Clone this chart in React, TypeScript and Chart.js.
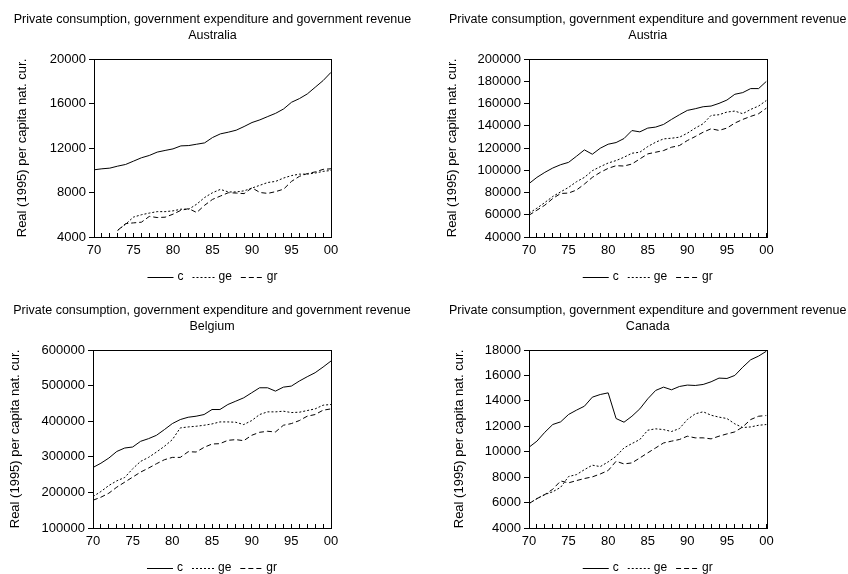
import React, { useEffect, useRef } from "react";
import { Chart, registerables } from "chart.js";

Chart.register(...registerables);

// ---------- data ----------
const years = [
  1970, 1971, 1972, 1973, 1974, 1975, 1976, 1977, 1978, 1979,
  1980, 1981, 1982, 1983, 1984, 1985, 1986, 1987, 1988, 1989,
  1990, 1991, 1992, 1993, 1994, 1995, 1996, 1997, 1998, 1999, 2000,
];

const xTickYears = [1970, 1975, 1980, 1985, 1990, 1995, 2000];
const xTickLabels = ["70", "75", "80", "85", "90", "95", "00"];

const seriesNames = ["c", "ge", "gr"];
const mainTitle = "Private consumption, government expenditure and government revenue";
const yAxisTitle = "Real (1995) per capita nat. cur.";

const countries = ["Australia", "Austria", "Belgium", "Canada"];

const australiaC = [10040, 10130, 10190, 10370, 10520, 10820, 11120, 11330, 11630, 11780, 11920, 12190, 12220, 12340, 12460, 12940, 13270, 13420, 13600, 13930, 14290, 14530, 14830, 15120, 15510, 16110, 16440, 16860, 17460, 18060, 18800];
const australiaGe = [null, null, null, 4600, 5150, 5790, 6000, 6150, 6280, 6280, 6350, 6500, 6500, 6950, 7550, 7980, 8280, 8050, 8050, 8150, 8400, 8650, 8900, 9000, 9300, 9520, 9650, 9650, 9750, 9900, 9980];
const australiaGr = [null, null, null, 4600, 5200, 5270, 5330, 5850, 5750, 5780, 6050, 6400, 6550, 6200, 6850, 7380, 7680, 7980, 7950, 7900, 8420, 8000, 7920, 8080, 8300, 9000, 9450, 9700, 9850, 10080, 10130];

const austriaC = [88000, 93600, 98100, 102000, 105000, 107100, 112600, 118300, 114400, 119800, 123400, 124900, 128500, 135700, 134500, 137900, 138800, 141200, 145700, 149900, 153800, 155300, 157100, 157700, 160100, 163100, 168300, 169800, 173400, 173400, 180000];
const austriaGe = [61400, 65900, 71000, 76400, 80600, 84600, 89700, 93600, 99600, 103200, 106500, 108700, 111700, 115300, 116200, 121300, 125200, 128200, 128800, 129700, 133300, 137900, 141800, 149300, 149900, 152300, 153200, 150800, 154700, 157700, 162800];
const austriaGr = [59600, 64100, 68600, 74600, 79100, 79500, 82200, 87600, 93600, 98100, 101700, 104100, 103800, 105600, 110200, 114700, 116200, 117700, 120700, 122200, 126700, 130300, 134200, 137300, 135800, 137900, 142400, 145700, 148400, 150800, 155900];

const belgiumC = [270000, 282000, 296500, 315000, 324700, 327500, 343500, 351000, 360400, 376400, 393300, 404600, 411100, 414000, 418700, 432800, 432800, 446900, 456300, 465700, 479800, 493900, 493900, 484500, 495700, 498600, 512700, 524900, 536200, 552100, 569100];
const belgiumGe = [188400, 202500, 219400, 232500, 241900, 266400, 287100, 298300, 313400, 329400, 348200, 381100, 383900, 385800, 388600, 392300, 398000, 398000, 397000, 390500, 401700, 418700, 426200, 426200, 428100, 424300, 425200, 429900, 434600, 445000, 446900];
const belgiumGr = [178000, 186500, 197800, 214700, 228800, 242900, 257000, 268300, 280500, 291800, 298300, 298300, 314300, 313400, 326500, 335900, 336900, 346300, 348200, 345300, 360400, 368800, 371700, 369800, 388600, 393300, 401700, 414000, 418700, 430900, 434600];

const canadaC = [10350, 10830, 11530, 12140, 12350, 12930, 13270, 13580, 14290, 14500, 14630, 12610, 12320, 12790, 13370, 14160, 14820, 15080, 14870, 15130, 15240, 15210, 15290, 15500, 15790, 15760, 16000, 16650, 17230, 17520, 17910];
const canadaGe = [5920, 6310, 6630, 6850, 7200, 8050, 8200, 8590, 8940, 8830, 9200, 9640, 10300, 10640, 10960, 11690, 11800, 11740, 11590, 11820, 12530, 12980, 13140, 12870, 12720, 12610, 12190, 11900, 11950, 12080, 12140];
const canadaGr = [5920, 6310, 6630, 7050, 7700, 7550, 7730, 7890, 8020, 8250, 8520, 9250, 9040, 9120, 9510, 9910, 10300, 10690, 10830, 10960, 11220, 11090, 11090, 11010, 11220, 11400, 11560, 11950, 12530, 12790, 12850];

// y-axis ranges: [min, max, step]
const australiaRange = [4000, 20000, 4000];
const austriaRange = [40000, 200000, 20000];
const belgiumRange = [100000, 600000, 100000];
const canadaRange = [4000, 18000, 2000];

// ---------- styles / layout ----------
const FONT = '"Liberation Sans", Arial, Helvetica, sans-serif';
const LINE_COLOR = "#000";
const seriesDash = [[], [2, 2], [5, 3]];
const legendSampleW = [26, 22, 22];

const panelLayout = [
  { x: 0, y: 0, w: 424, h: 291, plotLeft: 94, plotRight: 331, yLabelX: 22 },
  { x: 424, y: 0, w: 424, h: 291, plotLeft: 105, plotRight: 342.5, yLabelX: 28 },
  { x: 0, y: 291, w: 424, h: 283, plotLeft: 93, plotRight: 331, yLabelX: 15 },
  { x: 424, y: 291, w: 424, h: 283, plotLeft: 105, plotRight: 342.5, yLabelX: 35 },
];
const PLOT_TOP = 59;
const PLOT_BOTTOM = 237;
const TITLE_Y = 20;
const TITLE_LH = 16;
const LEGEND_Y = 277;

const panelData = [
  { country: countries[0], series: [australiaC, australiaGe, australiaGr], range: australiaRange },
  { country: countries[1], series: [austriaC, austriaGe, austriaGr], range: austriaRange },
  { country: countries[2], series: [belgiumC, belgiumGe, belgiumGr], range: belgiumRange },
  { country: countries[3], series: [canadaC, canadaGe, canadaGr], range: canadaRange },
];

const decorPlugin = {
  id: "panelDecor",
  afterDraw(chart: any, _args: any, opts: any) {
    const { ctx, chartArea: a } = chart;
    ctx.save();
    // frame
    ctx.strokeStyle = "#000";
    ctx.lineWidth = 1;
    ctx.setLineDash([]);
    const l = Math.round(a.left) + 0.5;
    const t = Math.round(a.top) + 0.5;
    const r = Math.round(a.right) + 0.5;
    const b = Math.round(a.bottom) + 0.5;
    ctx.strokeRect(l, t, r - l, b - t);

    const cx = (a.left + a.right) / 2;
    // title
    ctx.fillStyle = "#000";
    ctx.font = `12.5px ${FONT}`;
    ctx.textAlign = "center";
    ctx.textBaseline = "middle";
    (opts.title as string[]).forEach((line, i) => ctx.fillText(line, cx, TITLE_Y + i * TITLE_LH));

    // legend
    ctx.font = `12px ${FONT}`;
    const gapLine = 4;
    const gapItem = 9;
    const items = chart.data.datasets.map((ds: any, i: number) => ({
      label: ds.label as string,
      dash: ds.borderDash || [],
      w: legendSampleW[i],
      tw: ctx.measureText(ds.label).width,
    }));
    let total = 0;
    items.forEach((it: any, i: number) => {
      total += it.w + gapLine + it.tw + (i < items.length - 1 ? gapItem : 0);
    });
    let x = cx - total / 2;
    const ly = Math.round(LEGEND_Y) + 0.5;
    ctx.textAlign = "left";
    items.forEach((it: any) => {
      ctx.setLineDash(it.dash);
      ctx.beginPath();
      ctx.moveTo(x, ly);
      ctx.lineTo(x + it.w, ly);
      ctx.stroke();
      x += it.w + gapLine;
      ctx.fillText(it.label, x, LEGEND_Y);
      x += it.tw + gapItem;
    });
    ctx.restore();
  },
};

function Panel({ idx }: { idx: number }) {
  const ref = useRef<HTMLCanvasElement>(null);
  const geo = panelLayout[idx];
  const pd = panelData[idx];

  useEffect(() => {
    const canvas = ref.current;
    if (!canvas) return;
    const datasets = pd.series.map((vals, si) => ({
      label: seriesNames[si],
      data: years.map((yr, i) => ({ x: yr, y: vals[i] })),
      borderColor: LINE_COLOR,
      borderWidth: 1,
      borderDash: seriesDash[si],
      pointRadius: 0,
      fill: false,
      tension: 0,
    }));
    const chart = new Chart(canvas, {
      type: "line",
      data: { datasets },
      plugins: [decorPlugin],
      options: {
        animation: false,
        responsive: false,
        maintainAspectRatio: false,
        events: [],
        layout: {
          padding: { left: 0, top: PLOT_TOP, right: geo.w - geo.plotRight, bottom: 0 },
        },
        plugins: {
          legend: { display: false },
          title: { display: false },
          tooltip: { enabled: false },
          panelDecor: { title: [mainTitle, pd.country] },
        } as any,
        scales: {
          x: {
            type: "linear",
            min: years[0],
            max: years[years.length - 1],
            border: { display: false },
            grid: { drawOnChartArea: false, drawTicks: true, tickLength: -4, color: "#000", lineWidth: 1 },
            ticks: {
              stepSize: 1,
              autoSkip: false,
              maxRotation: 0,
              padding: 10,
              color: "#000",
              font: { family: FONT, size: 13 },
              callback: (v: any) => {
                const k = xTickYears.indexOf(Number(v));
                return k >= 0 ? xTickLabels[k] : "";
              },
            },
            afterFit: (s: any) => {
              s.height = geo.h - PLOT_BOTTOM;
            },
          },
          y: {
            type: "linear",
            min: pd.range[0],
            max: pd.range[1],
            border: { display: false },
            grid: { drawOnChartArea: false, drawTicks: true, tickLength: 5, color: "#000", lineWidth: 1 },
            ticks: {
              stepSize: pd.range[2],
              padding: 3,
              color: "#000",
              font: { family: FONT, size: 13 },
              callback: (v: any) => String(v),
            },
            title: {
              display: true,
              text: yAxisTitle,
              color: "#000",
              font: { family: FONT, size: 13 },
              padding: { top: geo.yLabelX - 7.8, bottom: 0 },
            },
            afterFit: (s: any) => {
              s.width = geo.plotLeft;
            },
          },
        },
      } as any,
    });
    return () => chart.destroy();
  }, []);

  return (
    <canvas
      ref={ref}
      width={geo.w}
      height={geo.h}
      style={{ position: "absolute", left: geo.x, top: geo.y, width: geo.w, height: geo.h, display: "block" }}
    />
  );
}

export default function App() {
  return (
    <div style={{ position: "absolute", left: 0, top: 0, width: 848, height: 574, background: "#fff" }}>
      {panelLayout.map((_, i) => (
        <Panel key={i} idx={i} />
      ))}
    </div>
  );
}
